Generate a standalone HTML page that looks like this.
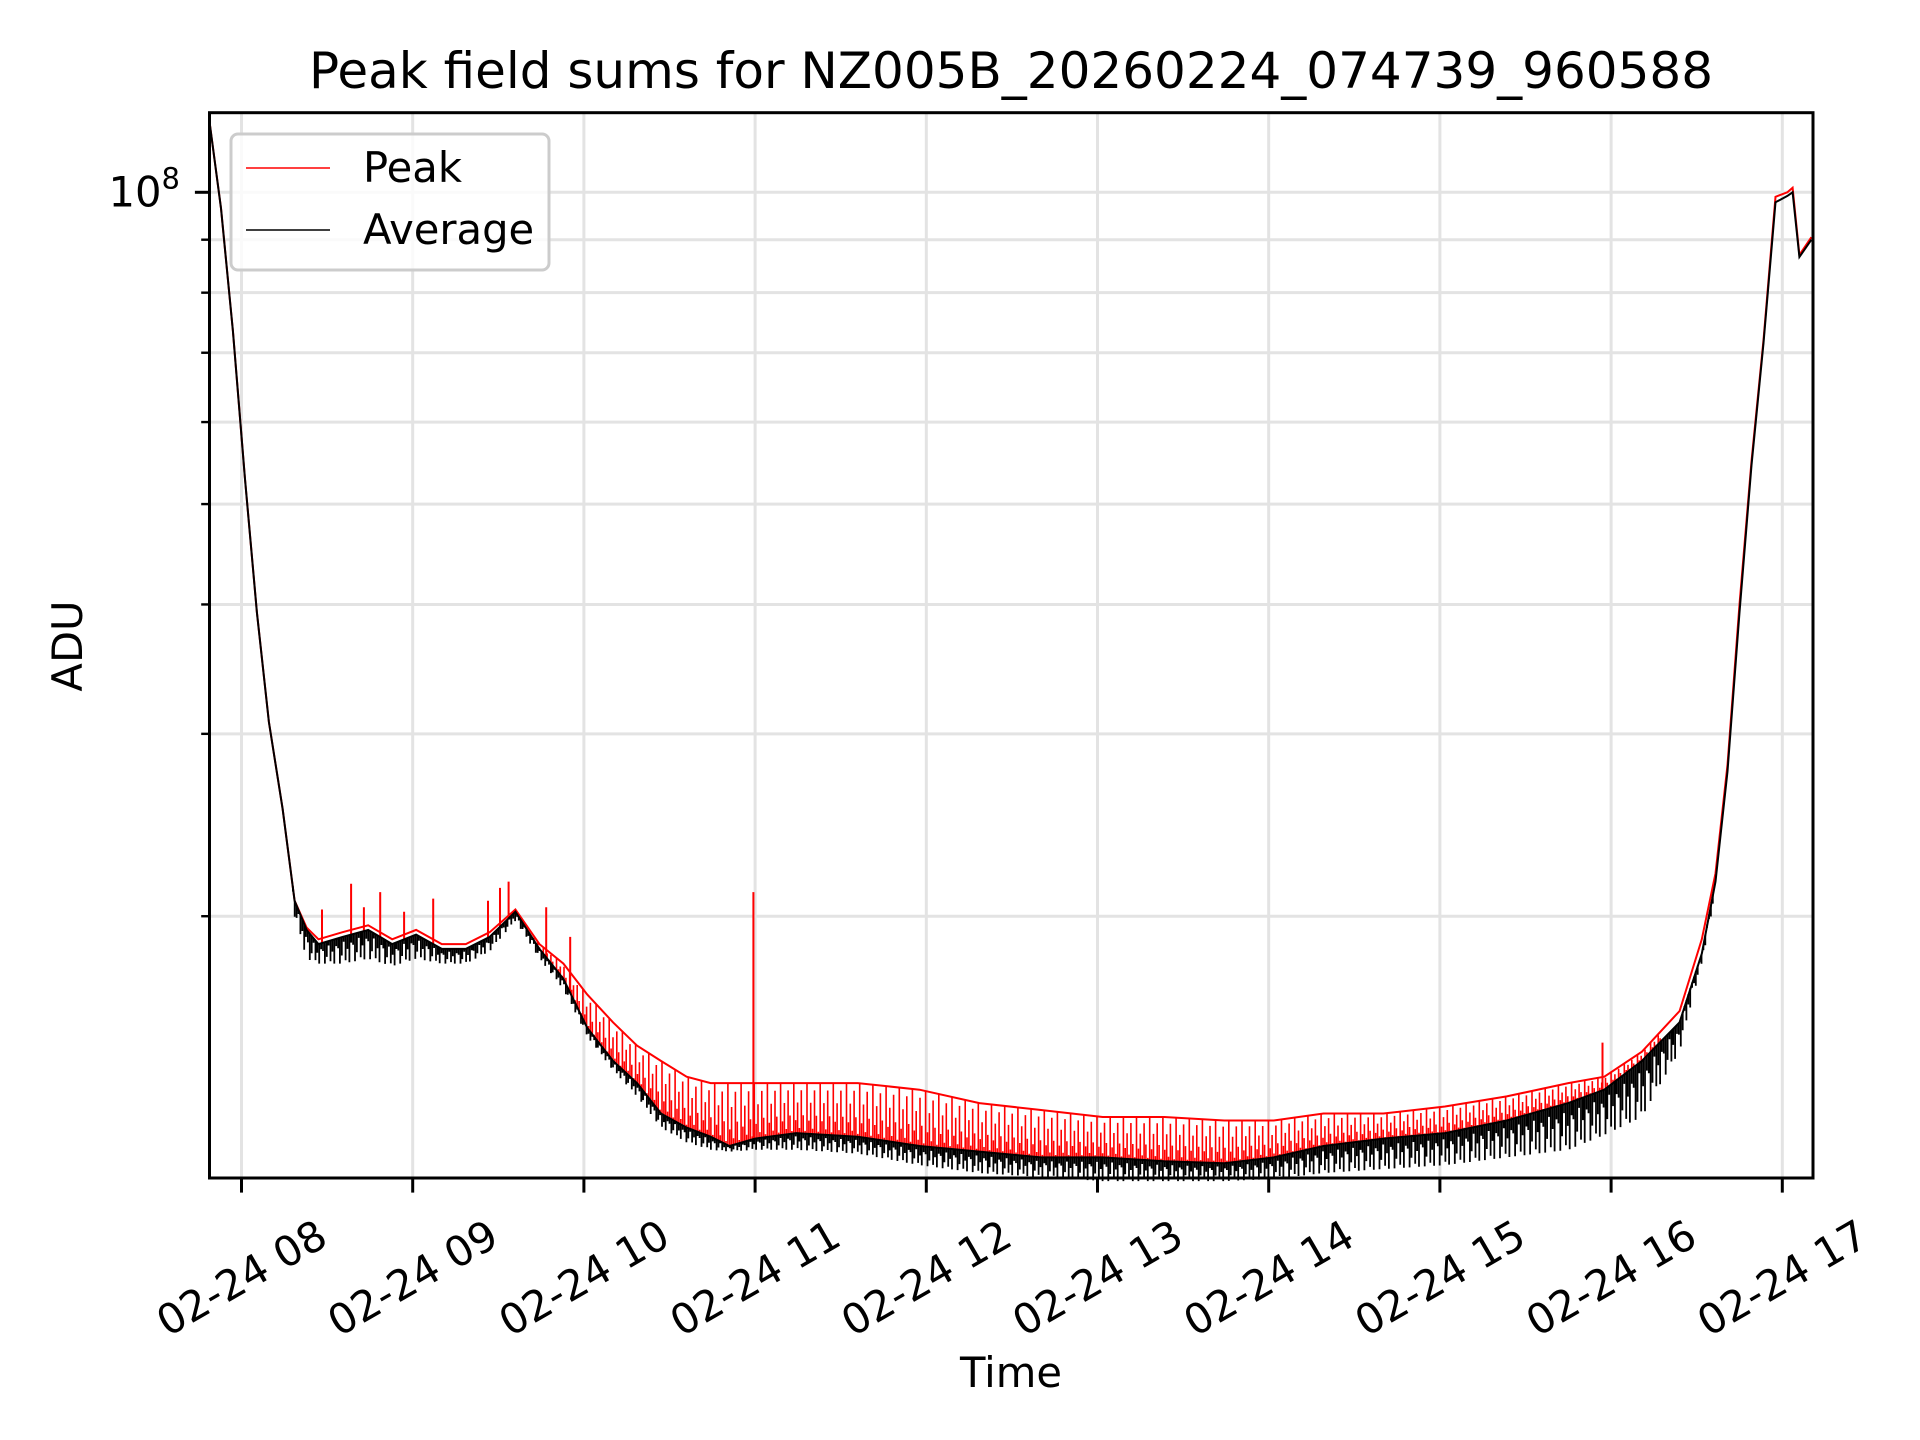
<!DOCTYPE html>
<html><head><meta charset="utf-8"><style>
html,body{margin:0;padding:0;background:#fff;}
svg{display:block;font-family:"DejaVu Sans","Liberation Sans",sans-serif;}
</style></head><body>
<svg id="chart" width="1920" height="1440" viewBox="0 0 1920 1440" xmlns="http://www.w3.org/2000/svg">
<rect width="1920" height="1440" fill="#fff"/>
<text x="1011" y="88" font-size="50" text-anchor="middle">Peak field sums for NZ005B_20260224_074739_960588</text>
<g id="grid"></g>
<g id="noise"></g>
<g id="lines"></g>
<g id="axes"></g>
<text transform="translate(82,646) rotate(-90)" font-size="41.7" text-anchor="middle">ADU</text>
<text x="1011" y="1387" font-size="41.7" text-anchor="middle">Time</text>
<g>
<rect x="231" y="134" width="318" height="136" rx="7" fill="#fff" fill-opacity="0.8" stroke="#ccc" stroke-width="3"/>
<line x1="246" y1="168" x2="330" y2="168" stroke="#f00" stroke-width="1.5"/>
<text x="363" y="182" font-size="41.7">Peak</text>
<line x1="246" y1="230" x2="330" y2="230" stroke="#000" stroke-width="1.5"/>
<text x="363" y="244" font-size="41.7">Average</text>
</g>
</svg>
<script>
// data (time in hours on 2026-02-24, values in units of 1e7 ADU)
const times = [7.81,7.88,7.95,8.02,8.09,8.16,8.24,8.31,8.38,8.45,8.59,8.74,8.88,9.02,9.17,9.31,9.45,9.60,9.74,9.88,10.02,10.17,10.31,10.45,10.60,10.74,10.85,11.0,11.24,11.6,11.96,12.31,12.67,13.03,13.39,13.74,14.03,14.32,14.67,15.03,15.39,15.75,15.96,16.18,16.40,16.53,16.61,16.68,16.75,16.82,16.89,16.96,17.03,17.06,17.10,17.17];
const avgVals = [11.8,9.65,7.35,5.30,3.93,3.08,2.54,2.07,1.94,1.88,1.91,1.94,1.88,1.92,1.86,1.86,1.91,2.02,1.86,1.74,1.56,1.45,1.38,1.29,1.25,1.225,1.20,1.22,1.235,1.225,1.20,1.185,1.17,1.17,1.16,1.155,1.17,1.20,1.22,1.235,1.27,1.32,1.36,1.45,1.58,1.84,2.16,2.76,3.93,5.45,7.15,9.78,9.92,10.0,8.66,9.0];
const peakVals = [11.8,9.65,7.35,5.30,3.93,3.08,2.54,2.07,1.95,1.90,1.93,1.96,1.90,1.94,1.88,1.88,1.93,2.03,1.88,1.80,1.68,1.58,1.50,1.45,1.40,1.38,1.38,1.38,1.38,1.38,1.36,1.32,1.30,1.28,1.28,1.27,1.27,1.29,1.29,1.31,1.34,1.38,1.40,1.48,1.62,1.90,2.20,2.80,4.00,5.50,7.20,9.90,10.0,10.1,8.70,9.05];
const lowVals = [11.8,9.65,7.35,5.30,3.93,3.08,2.54,2.00,1.82,1.80,1.80,1.82,1.79,1.82,1.80,1.80,1.85,1.98,1.82,1.70,1.53,1.42,1.34,1.25,1.21,1.19,1.185,1.19,1.19,1.18,1.15,1.13,1.12,1.11,1.11,1.11,1.115,1.13,1.14,1.15,1.17,1.19,1.23,1.28,1.48,1.80,2.10,2.70,3.85,5.35,7.00,9.70,9.85,9.95,8.60,8.95];
const spikeTimes = [8.47,8.64,8.715,8.81,8.95,9.12,9.44,9.51,9.56,9.78,9.92,10.99,15.95];
const spikeVals = [2.03,2.15,2.04,2.11,2.02,2.08,2.07,2.13,2.16,2.04,1.91,2.11,1.51];
const xTickHours = [8,9,10,11,12,13,14,15,16,17];
const xTickLabels = ["02-24 08","02-24 09","02-24 10","02-24 11","02-24 12","02-24 13","02-24 14","02-24 15","02-24 16","02-24 17"];
const yMinorVals = [2,3,4,5,6,7,8,9];

const L=209.5,R=1813,T=112.7,B=1178;
const xs = h => 241.5 + (h-8)*171.2;
const ys = v => 192.3 - 1035.7*Math.log10(v/10);
const NS="http://www.w3.org/2000/svg";
function mk(tag, parent, attrs){const e=document.createElementNS(NS,tag);for(const k in attrs)e.setAttribute(k,attrs[k]);parent.appendChild(e);return e;}
const grid=document.getElementById('grid'),axes=document.getElementById('axes'),lines=document.getElementById('lines'),noise=document.getElementById('noise');

xTickHours.forEach((h,i)=>{
  const x=xs(h);
  const g=mk('line',grid,{x1:x,y1:T,x2:x,y2:B,stroke:'#e3e3e3','stroke-width':3});
  
  
  const t=mk('line',axes,{x1:x,y1:B,x2:x,y2:B+14.6,stroke:'#000','stroke-width':3});
  
  
  const lb=mk('text',axes,{transform:`translate(${x},1278) rotate(-30)`,'font-size':41.7,'text-anchor':'middle','dominant-baseline':'central'});
  lb.textContent=xTickLabels[i];
  
  
});
[10].concat(yMinorVals).forEach(v=>{
  const y=ys(v);
  const g=mk('line',grid,{x1:L,y1:y,x2:R,y2:y,stroke:'#e3e3e3','stroke-width':3});
  
  
  const t=mk('line',axes,{x1:L,y1:y,x2:L-(v===10?14.6:8.3),y2:y,stroke:'#000','stroke-width':v===10?3:2.4});
  
  
});
const yl=mk('text',axes,{x:180,y:ys(10)+14,'font-size':41.7,'text-anchor':'end'});
yl.innerHTML='10<tspan font-size="29" dy="-18">8</tspan>';


const fr=mk('rect',axes,{x:L,y:T,width:R-L,height:B-T,fill:'none',stroke:'#000','stroke-width':3});



// interpolation helper for noise hatching between series
function interp(arr,h){for(let i=0;i<times.length-1;i++){if(h>=times[i]&&h<=times[i+1]){const f=(h-times[i])/(times[i+1]-times[i]);return arr[i]+(arr[i+1]-arr[i])*f;}}return arr[arr.length-1];}
let dR='',dK='';
for(let k=0,h=8.3;h<16.6;k++,h+=0.011){
  const a=interp(avgVals,h),p=interp(peakVals,h),lo=interp(lowVals,h);
  const fp=[1,0.25,0.6,0.1,0.85,0.35,0.05][k%7], fl=[0.4,1,0.7,0.2,0.9,0.5,1,0.3][k%8];
  const x=xs(h).toFixed(1);
  if(h>9.7&&h<16.3) dR+=`M${x} ${ys(a).toFixed(1)}V${ys(a+(p-a)*fp).toFixed(1)}`;
  dK+=`M${x} ${ys(a).toFixed(1)}V${ys(a+(lo-a)*fl).toFixed(1)}`;
}
const nr=mk('path',noise,{d:dR,stroke:'#f00','stroke-width':1.6,fill:'none'});


const pk=mk('path',lines,{d:times.map((h,i)=>(i?'L':'M')+xs(h).toFixed(1)+' '+ys(peakVals[i]).toFixed(1)).join(''),stroke:'#f00','stroke-width':2,fill:'none'});


let ds='';spikeTimes.forEach((h,i)=>{ds+=`M${xs(h).toFixed(1)} ${ys(interp(avgVals,h)).toFixed(1)}V${ys(spikeVals[i]).toFixed(1)}`;});
const sp=mk('path',lines,{d:ds,stroke:'#f00','stroke-width':2,fill:'none'});


const nk=mk('path',lines,{d:dK,stroke:'#000','stroke-width':1.8,fill:'none'});


const av=mk('path',lines,{d:times.map((h,i)=>(i?'L':'M')+xs(h).toFixed(1)+' '+ys(avgVals[i]).toFixed(1)).join(''),stroke:'#000','stroke-width':2,fill:'none'});


</script>
</body></html>
